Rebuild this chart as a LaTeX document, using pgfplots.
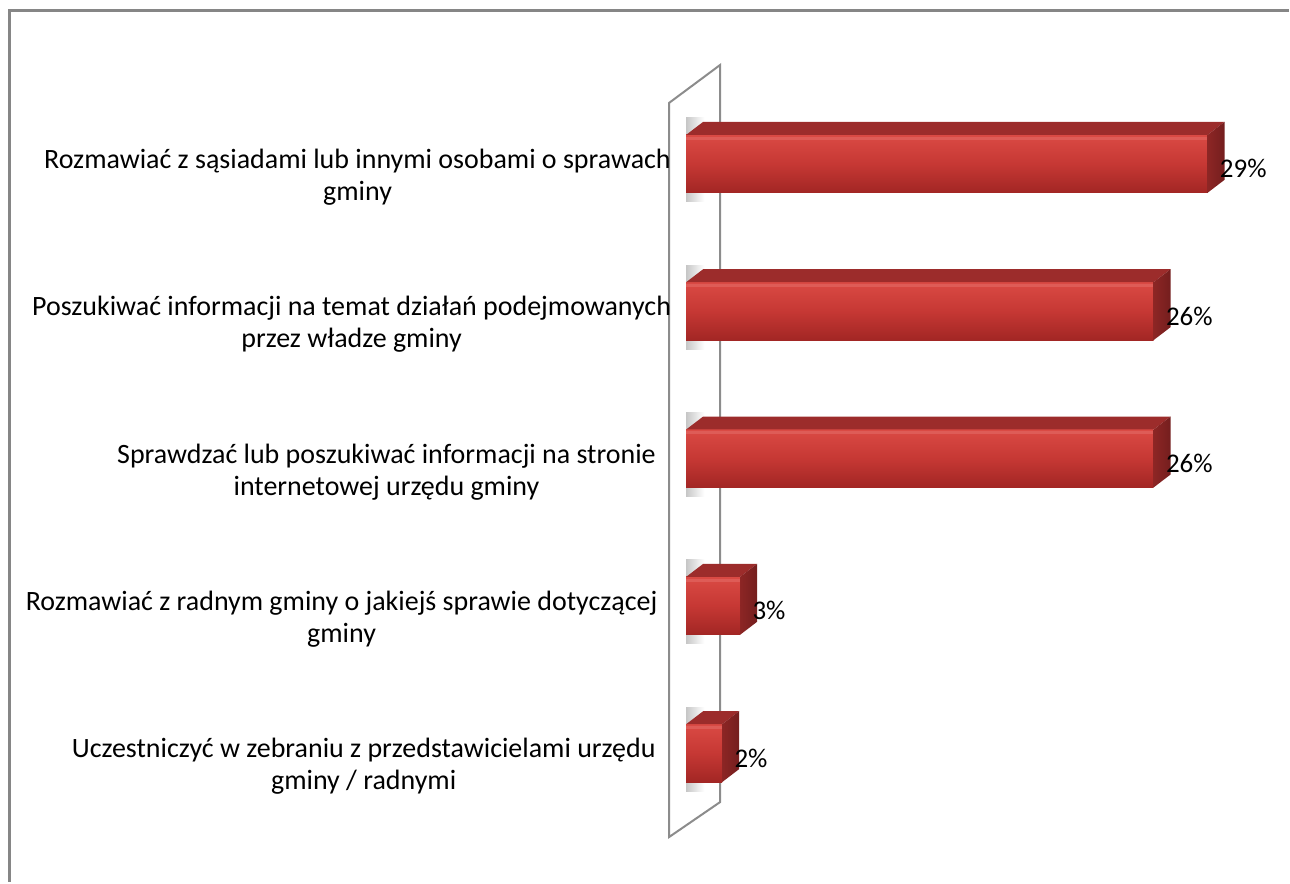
\documentclass[border=0pt]{standalone}
\usepackage{pgfplots}
\usepackage{pgfplotstable}
\pgfplotsset{compat=1.18}
\usepackage{fontspec}
\setmainfont{Carlito}
\definecolor{redA}{RGB}{218,74,68}
\definecolor{redB}{RGB}{198,56,52}
\definecolor{redC}{RGB}{162,38,36}
\definecolor{redTop}{RGB}{156,44,43}
\definecolor{redSide}{RGB}{116,30,30}
\definecolor{frameGray}{RGB}{134,134,134}
\definecolor{wallGray}{RGB}{140,140,140}

\pgfplotstableread{
v   pos
29  5
26  4
26  3
3   2
2   1
}\bars

\begin{document}
\begin{tikzpicture}[x=1pt,y=1pt]
\path (0,0) rectangle (645,441.5);
\draw[frameGray, line width=1.5pt] (5,0) -- (5,436) -- (645,436);
\begin{axis}[
  at={(325.5pt,12.875pt)}, anchor=south west,
  scale only axis, x=9pt, y=73.75pt,
  xmin=-2, xmax=33, ymin=0.3, ymax=5.8,
  hide axis, clip=false,
  /pgf/number format/assume math mode=true,
]
% wall
\draw[wallGray, line width=1pt, fill=white]
  (axis cs:-0.944,5.414) -- (axis cs:1.889,5.671) -- (axis cs:1.889,0.668) -- (axis cs:-0.944,0.431) -- cycle;
% 3D bars
\addplot[scatter, only marks, mark=*, mark size=0pt,
  visualization depends on={\thisrow{v} \as \xv},
  scatter/use mapped color={draw=none, fill=none},
  scatter/@pre marker code/.code={%
    \pgfmathsetmacro{\L}{\xv*9}%
    \begin{scope}[opacity=1, fill opacity=1, draw opacity=1]
    \shade[draw=none, left color=black!22, right color=white] (-\L pt,-19pt) rectangle (-\L pt+9pt,23pt);
    \shade[draw=none, top color=redA, bottom color=redC, middle color=redB] (-\L pt,-14.5pt) rectangle (0pt,14.5pt);
    \fill[draw=none, redA!90!white] (-\L pt,12pt) rectangle (0pt,13.5pt);
    \fill[draw=none, redTop] (-\L pt,14.5pt) -- (0pt,14.5pt) -- (8.5pt,21pt) -- (-\L pt+8.5pt,21pt) -- cycle;
    \shade[draw=none, left color=redSide!70!redB, right color=redSide] (0pt,-14.5pt) -- (8.5pt,-8pt) -- (8.5pt,21pt) -- (0pt,14.5pt) -- cycle;
    \end{scope}
  },
  scatter/@post marker code/.code={},
] table[x=v, y=pos] {\bars};
% value labels
\addplot[draw=none, point meta=x,
  nodes near coords={\pgfmathprintnumber{\pgfplotspointmeta}\%},
  nodes near coords style={anchor=west, xshift=6pt, yshift=-2.5pt, font=\fontsize{13.5}{15}\selectfont, text=black, inner sep=0pt},
] table[x=v, y=pos] {\bars};
% category labels
\begin{scope}[every node/.style={align=center, anchor=north, font=\fontsize{14}{16}\selectfont, inner sep=0pt}]
\node at (axis cs:-18.28,5) [yshift=7.5pt] {Rozmawiać z sąsiadami lub innymi osobami o sprawach\\gminy};
\node at (axis cs:-18.61,4) [yshift=7.5pt] {Poszukiwać informacji na temat działań podejmowanych\\przez władze gminy};
\node at (axis cs:-16.67,3) [yshift=7.5pt] {Sprawdzać lub poszukiwać informacji na stronie\\internetowej urzędu gminy};
\node at (axis cs:-19.17,2) [yshift=7.5pt] {Rozmawiać z radnym gminy o jakiejś sprawie dotyczącej\\gminy};
\node at (axis cs:-17.94,1) [yshift=7.5pt] {Uczestniczyć w zebraniu z przedstawicielami urzędu\\gminy / radnymi};
\end{scope}
\end{axis}
\end{tikzpicture}
\end{document}
